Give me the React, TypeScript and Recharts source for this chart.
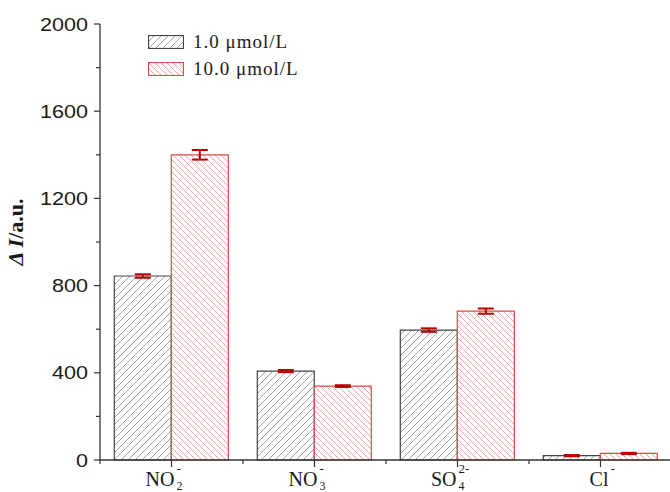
import { Bar, BarChart, ErrorBar, Legend, XAxis, YAxis } from "recharts";

const ions = ["NO2", "NO3", "SO4", "Cl"];
const ionMain = ["NO", "NO", "SO", "Cl"];
const ionSub = ["2", "3", "4", ""];
const ionSup = ["-", "-", "2-", "-"];

const low = [844, 408, 596, 20];
const lowErr = [8, 5, 8, 3];
const high = [1400, 339, 683, 30];
const highErr = [22, 4, 12, 3];

const yTicks = [0, 200, 400, 600, 800, 1000, 1200, 1400, 1600, 1800, 2000];

const data = ions.map((ion, i) => ({
  name: ion,
  low: low[i],
  lowErr: lowErr[i],
  high: high[i],
  highErr: highErr[i],
}));

const W = 680;
const H = 492;
const LEFT = 100;
const RIGHT = 8;
const BAND = (W - LEFT - RIGHT) / ions.length;

const serif = "'Liberation Serif', 'Times New Roman', serif";
const sans = "'Liberation Sans', Arial, sans-serif";

const GRAY_LINE = "#8a8a8a";
const RED_LINE = "#ec8a8a";

// label nudges so the main letters sit like the original
const labelOffset: Record<string, number> = { NO2: 3, NO3: 3, SO4: -1, Cl: 8 };

function YTick({ x, y, payload }: any) {
  const major = payload.value % 400 === 0;
  return (
    <g>
      <line x1={x - (major ? 6 : 4)} x2={x} y1={y} y2={y} stroke="#333" strokeWidth={1.2} />
      {major && (
        <text
          transform={`translate(${x - 12},${y + 6.5}) scale(1.2,1)`}
          textAnchor="end"
          fontFamily={sans}
          fontSize={18}
          fill="#1a1a1a"
        >
          {payload.value}
        </text>
      )}
    </g>
  );
}

function XTick({ x, y, payload, index }: any) {
  const i = ions.indexOf(payload.value);
  const off = labelOffset[payload.value] ?? 0;
  const last = index === ions.length - 1;
  return (
    <g>
      <line x1={x} x2={x} y1={y} y2={y + 7} stroke="#333" strokeWidth={1.2} />
      <line x1={x - BAND / 2} x2={x - BAND / 2} y1={y} y2={y + 4} stroke="#333" strokeWidth={1.2} />
      {last && <line x1={x + BAND / 2} x2={x + BAND / 2} y1={y} y2={y + 4} stroke="#333" strokeWidth={1.2} />}
      <text x={x + off} y={y + 26} textAnchor="end" fontFamily={serif} fontSize={20} fill="#1a1a1a">
        {ionMain[i]}
      </text>
      {ionSup[i] && (
        <text x={x + off + 2} y={y + 13} fontFamily={serif} fontSize={13} fill="#1a1a1a">
          {ionSup[i]}
        </text>
      )}
      {ionSub[i] && (
        <text x={x + off + 2} y={y + 30} fontFamily={serif} fontSize={12} fill="#1a1a1a">
          {ionSub[i]}
        </text>
      )}
    </g>
  );
}

function YLabel() {
  return (
    <text
      transform="translate(23,232) rotate(-90)"
      textAnchor="middle"
      fontFamily={serif}
      fontSize={22}
      fontWeight="bold"
      fill="#1a1a1a"
    >
      <tspan fontStyle="italic">Δ I</tspan>
      <tspan>/a.u.</tspan>
    </text>
  );
}

function Swatch({ fill, stroke }: { fill: string; stroke: string }) {
  const gray = fill === "gray";
  return (
    <svg width={36} height={14} style={{ display: "block" }}>
      <defs>
        <pattern id={`lg-${fill}`} patternUnits="userSpaceOnUse" width={gray ? 7 : 6} height={gray ? 7 : 6}>
          {gray ? (
            <path d="M-1,1 l2,-2 M0,7 l7,-7 M6,8 l2,-2" stroke={GRAY_LINE} strokeWidth={0.8} />
          ) : (
            <path d="M-1,5 l2,2 M0,0 l6,6 M5,-1 l2,2" stroke={RED_LINE} strokeWidth={0.8} />
          )}
        </pattern>
      </defs>
      <rect x={0.5} y={0.5} width={35} height={13} fill={`url(#lg-${fill})`} stroke={stroke} strokeWidth={1.2} />
    </svg>
  );
}

function LegendBox() {
  const rows = [
    { fill: "gray", stroke: "#444", label: "1.0 μmol/L" },
    { fill: "red", stroke: "#d94a4a", label: "10.0 μmol/L" },
  ];
  return (
    <div style={{ fontFamily: serif, fontSize: 19, letterSpacing: 1, color: "#1a1a1a" }}>
      {rows.map((r) => (
        <div key={r.label} style={{ display: "flex", alignItems: "center", height: 27 }}>
          <Swatch fill={r.fill} stroke={r.stroke} />
          <span style={{ marginLeft: 9, lineHeight: "27px" }}>{r.label}</span>
        </div>
      ))}
    </div>
  );
}

export default function App() {
  return (
    <div style={{ width: 670, height: H, overflow: "hidden", background: "#fff" }}>
      <style>{"body{margin:0}"}</style>
      <BarChart
        width={W}
        height={H}
        data={data}
        margin={{ top: 24, right: RIGHT, left: 0, bottom: 0 }}
        barCategoryGap="10%"
        barGap={0}
      >
        <defs>
          <pattern id="hatchGray" patternUnits="userSpaceOnUse" width={7} height={7}>
            <rect width={7} height={7} fill="#fff" />
            <path d="M-1,1 l2,-2 M0,7 l7,-7 M6,8 l2,-2" stroke={GRAY_LINE} strokeWidth={0.8} />
          </pattern>
          <pattern id="hatchRed" patternUnits="userSpaceOnUse" width={6} height={6}>
            <rect width={6} height={6} fill="#fff" />
            <path d="M-1,5 l2,2 M0,0 l6,6 M5,-1 l2,2" stroke={RED_LINE} strokeWidth={0.8} />
          </pattern>
        </defs>
        <XAxis
          dataKey="name"
          height={H - 24 - 436}
          interval={0}
          tickLine={false}
          tickSize={0}
          tickMargin={0}
          axisLine={{ stroke: "#333", strokeWidth: 1.3 }}
          tick={<XTick />}
        />
        <YAxis
          width={LEFT}
          domain={[0, 2000]}
          ticks={yTicks}
          interval={0}
          tickLine={false}
          tickSize={0}
          tickMargin={0}
          axisLine={{ stroke: "#333", strokeWidth: 1.3 }}
          tick={<YTick />}
          label={{ content: () => <YLabel /> }}
        />
        <Legend
          layout="vertical"
          align="center"
          verticalAlign="middle"
          wrapperStyle={{ left: 148, top: 28, width: "auto" }}
          content={<LegendBox />}
        />
        <Bar dataKey="low" name="1.0 μmol/L" fill="url(#hatchGray)" stroke="#444" strokeWidth={1.2} isAnimationActive={false}>
          <ErrorBar dataKey="lowErr" direction="y" width={8} stroke="#c00000" strokeWidth={2} />
        </Bar>
        <Bar dataKey="high" name="10.0 μmol/L" fill="url(#hatchRed)" stroke="#d94a4a" strokeWidth={1.2} isAnimationActive={false}>
          <ErrorBar dataKey="highErr" direction="y" width={8} stroke="#c00000" strokeWidth={2} />
        </Bar>
      </BarChart>
    </div>
  );
}
